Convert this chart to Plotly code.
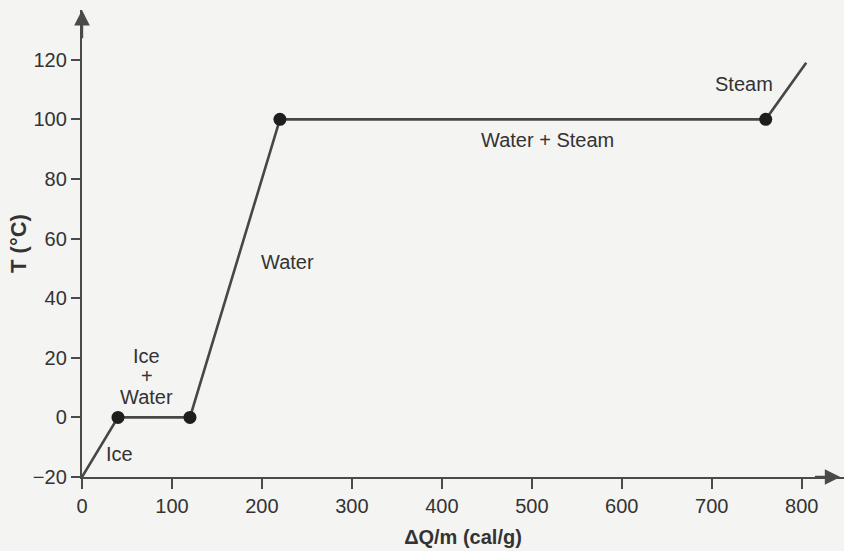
import plotly.graph_objects as go

# Heating curve of water
dq = [0, 40, 120, 220, 760, 805]          # ΔQ/m (cal/g)
temp = [-20, 0, 0, 100, 100, 119]          # T (°C)
x_ticks = [0, 100, 200, 300, 400, 500, 600, 700, 800]
y_ticks = [-20, 0, 20, 40, 60, 80, 100, 120]

labels = ["Ice", "Ice", "+", "Water", "Water", "Water + Steam", "Steam"]
label_x = [42, 72, 72, 72, 228, 517, 736]
label_y = [-12.4, 20.5, 13.8, 7, 52, 93, 112]

X_MAX = 847
ARROW_X = 843
Y_MAX = 136.7
ink = "#333333"
axis_ink = "#4a4a4a"
bg = "#f4f4f2"
font = "Liberation Sans, Arial, Helvetica, sans-serif"

fig = go.Figure()
fig.add_trace(go.Scatter(x=dq, y=temp, mode="lines",
                         line=dict(color="#474747", width=2.6),
                         hoverinfo="skip", showlegend=False))
fig.add_trace(go.Scatter(x=dq[1:5], y=temp[1:5], mode="markers",
                         marker=dict(color="#1e1e1e", size=13),
                         hoverinfo="skip", showlegend=False))

for t, lx, ly in zip(labels, label_x, label_y):
    fig.add_annotation(x=lx, y=ly, text=t, showarrow=False,
                       font=dict(family=font, size=20, color=ink))

# axis arrows
fig.add_annotation(x=0, y=Y_MAX, ax=0, ay=Y_MAX - 10, xref="x", yref="y",
                   axref="x", ayref="y", text="", showarrow=True,
                   arrowhead=2, arrowsize=1.3, arrowwidth=2.4, arrowcolor=axis_ink)
fig.add_annotation(x=ARROW_X, y=-20, ax=ARROW_X - 30, ay=-20, xref="x", yref="y",
                   axref="x", ayref="y", text="", showarrow=True,
                   arrowhead=2, arrowsize=1.3, arrowwidth=2.4, arrowcolor=axis_ink)

fig.update_layout(
    width=844, height=551,
    margin=dict(l=82, r=0, t=10, b=74),
    paper_bgcolor=bg, plot_bgcolor=bg,
    font=dict(family=font, color=ink, size=20),
)
fig.update_xaxes(range=[0, X_MAX], tickvals=x_ticks, showgrid=False, zeroline=False,
                 showline=True, linecolor=axis_ink, linewidth=2.4,
                 ticks="outside", ticklen=10, tickwidth=2, tickcolor=axis_ink,
                 tickfont=dict(size=20, family=font, color=ink),
                 title=dict(text="<b>ΔQ/m (cal/g)</b>", standoff=14,
                            font=dict(size=20, family=font, color=ink)))
fig.update_yaxes(range=[-20, Y_MAX], tickvals=y_ticks, showgrid=False, zeroline=False,
                 showline=True, linecolor=axis_ink, linewidth=2.4,
                 ticks="outside", ticklen=9, tickwidth=2, tickcolor=axis_ink,
                 tickfont=dict(size=20, family=font, color=ink),
                 title=dict(text="<b>T (°C)</b>", standoff=0,
                            font=dict(size=22, family=font, color=ink)))

fig.write_html("out.html", config={"displayModeBar": False},
               post_script="document.body.style.margin='0';document.body.style.background='%s';" % bg)
